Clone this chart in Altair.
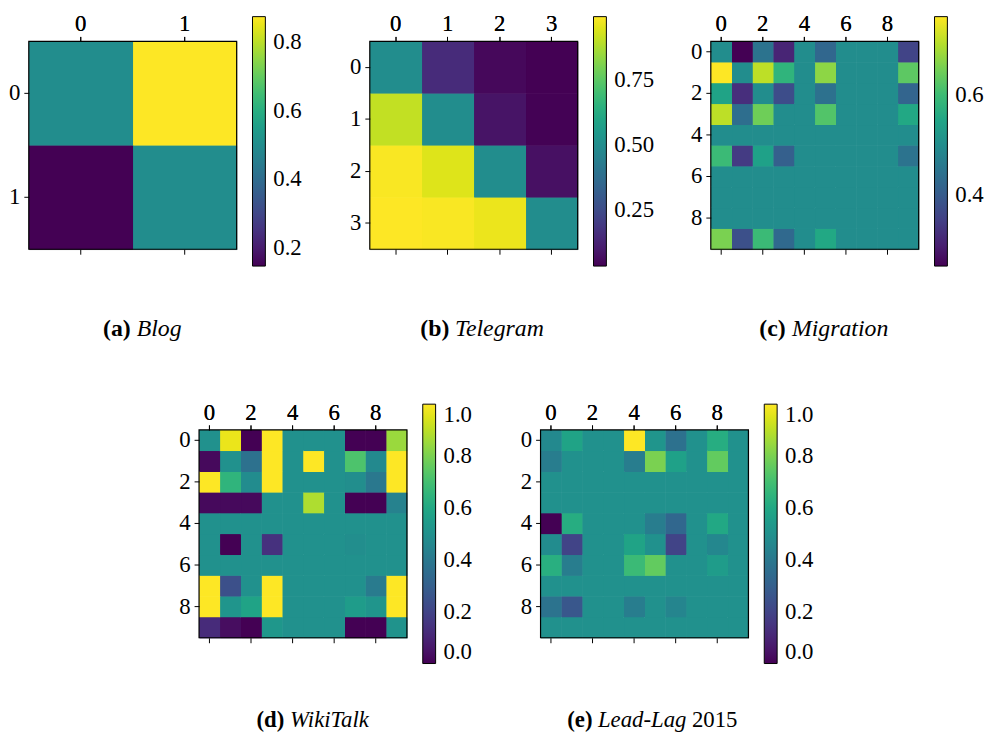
import altair as alt
import pandas as pd

FONT = "Liberation Serif"

# ---- data (row-major matrices) ----
BLOG = [
    [0.500, 0.874],
    [0.147, 0.500],
]
TELEGRAM = [
    [0.500, 0.150, 0.050, 0.033],
    [0.910, 0.500, 0.080, 0.035],
    [0.990, 0.950, 0.500, 0.070],
    [0.997, 0.990, 0.970, 0.500],
]
MIGRATION = [
    [0.500, 0.260, 0.448, 0.310, 0.500, 0.423, 0.500, 0.500, 0.500, 0.359],
    [0.755, 0.500, 0.706, 0.582, 0.500, 0.671, 0.500, 0.500, 0.500, 0.631],
    [0.547, 0.324, 0.500, 0.374, 0.500, 0.443, 0.500, 0.500, 0.500, 0.418],
    [0.706, 0.438, 0.646, 0.500, 0.500, 0.621, 0.500, 0.500, 0.500, 0.557],
    [0.500, 0.500, 0.500, 0.500, 0.500, 0.500, 0.500, 0.500, 0.500, 0.500],
    [0.597, 0.344, 0.542, 0.409, 0.500, 0.500, 0.500, 0.500, 0.500, 0.448],
    [0.500, 0.500, 0.500, 0.500, 0.500, 0.500, 0.500, 0.500, 0.500, 0.500],
    [0.500, 0.500, 0.500, 0.500, 0.500, 0.500, 0.500, 0.500, 0.500, 0.500],
    [0.500, 0.500, 0.500, 0.500, 0.500, 0.500, 0.500, 0.500, 0.500, 0.500],
    [0.656, 0.379, 0.597, 0.428, 0.500, 0.557, 0.500, 0.500, 0.500, 0.500],
]
WIKITALK = [
    [0.50, 0.97, 0.00, 1.00, 0.50, 0.50, 0.50, 0.00, 0.00, 0.85],
    [0.02, 0.50, 0.37, 1.00, 0.50, 1.00, 0.50, 0.72, 0.47, 1.00],
    [1.00, 0.65, 0.48, 1.00, 0.50, 0.50, 0.50, 0.49, 0.40, 1.00],
    [0.02, 0.02, 0.02, 0.50, 0.50, 0.88, 0.50, 0.00, 0.00, 0.44],
    [0.50, 0.50, 0.50, 0.50, 0.50, 0.50, 0.50, 0.50, 0.50, 0.50],
    [0.50, 0.00, 0.50, 0.14, 0.50, 0.50, 0.50, 0.49, 0.50, 0.50],
    [0.50, 0.50, 0.50, 0.50, 0.50, 0.50, 0.50, 0.50, 0.50, 0.50],
    [1.00, 0.24, 0.50, 1.00, 0.50, 0.50, 0.50, 0.50, 0.41, 1.00],
    [1.00, 0.52, 0.58, 1.00, 0.50, 0.50, 0.50, 0.55, 0.52, 1.00],
    [0.12, 0.03, 0.00, 0.53, 0.50, 0.50, 0.50, 0.00, 0.00, 0.51],
]
LEADLAG = [
    [0.47, 0.58, 0.50, 0.50, 1.00, 0.52, 0.37, 0.50, 0.62, 0.50],
    [0.42, 0.50, 0.50, 0.50, 0.42, 0.80, 0.57, 0.50, 0.76, 0.50],
    [0.50, 0.50, 0.50, 0.50, 0.50, 0.50, 0.50, 0.50, 0.50, 0.50],
    [0.50, 0.50, 0.50, 0.50, 0.50, 0.50, 0.50, 0.50, 0.50, 0.50],
    [0.00, 0.62, 0.50, 0.50, 0.50, 0.42, 0.33, 0.50, 0.60, 0.50],
    [0.48, 0.20, 0.50, 0.50, 0.58, 0.50, 0.20, 0.50, 0.46, 0.50],
    [0.63, 0.42, 0.50, 0.50, 0.68, 0.76, 0.50, 0.50, 0.55, 0.50],
    [0.50, 0.50, 0.50, 0.50, 0.50, 0.50, 0.50, 0.50, 0.50, 0.50],
    [0.38, 0.27, 0.50, 0.50, 0.42, 0.50, 0.45, 0.50, 0.50, 0.50],
    [0.50, 0.50, 0.50, 0.50, 0.50, 0.50, 0.50, 0.50, 0.50, 0.50],
]

# colour bar domains and ticks
DOMAINS = [[0.147, 0.874], [0.033, 0.997], [0.26, 0.755], [0.0, 1.0], [0.0, 1.0]]
CB_TICKS = [[0.2, 0.4, 0.6, 0.8], [0.25, 0.5, 0.75], [0.4, 0.6],
            [0.0, 0.2, 0.4, 0.6, 0.8, 1.0], [0.0, 0.2, 0.4, 0.6, 0.8, 1.0]]
CB_FORMATS = [".1f", ".2f", ".1f", ".1f", ".1f"]
AXIS_TICKS = [[0, 1], [0, 1, 2, 3], [0, 2, 4, 6, 8], [0, 2, 4, 6, 8], [0, 2, 4, 6, 8]]

# captions: (bold label, italic name, upright suffix)
CAP_LABELS = ["(a)", "(b)", "(c)", "(d)", "(e)"]
CAP_NAMES = ["Blog", "Telegram", "Migration", "WikiTalk", "Lead-Lag"]
CAP_SUFFIX = ["", "", "", "", "2015"]

SIZE = 210
TICK_FS = 23


def to_df(m):
    rows = []
    for i, r in enumerate(m):
        for j, v in enumerate(r):
            rows.append({"row": i, "col": j, "value": v})
    return pd.DataFrame(rows)


def axis(orient, values, labels=True, pad=3, baseline=None):
    kw = {}
    if baseline:
        kw["labelBaseline"] = baseline
    return alt.Axis(orient=orient, values=values, title=None, labelAngle=0,
                    labels=labels, labelFont=FONT, labelFontSize=TICK_FS,
                    labelColor="black", tickColor="black", tickSize=5,
                    tickWidth=1, labelPadding=pad, domain=False, grid=False, **kw)


def panel(k, m, cb_len, cb_y, cap_fs, cap_y, cap_left, name_left, suffix_x):
    n = len(m)
    df = to_df(m)
    xs = alt.Scale(domain=list(range(n)), paddingInner=0, paddingOuter=0)
    ys = alt.Scale(domain=list(range(n)), paddingInner=0, paddingOuter=0)
    xenc = alt.X("col:O", scale=xs,
                 axis=axis("top", AXIS_TICKS[k], pad=12.6, baseline="middle"))
    yenc = alt.Y("row:O", scale=ys, axis=axis("left", AXIS_TICKS[k], pad=4))
    color = alt.Color(
        "value:Q",
        scale=alt.Scale(scheme="viridis", domain=DOMAINS[k]),
        legend=alt.Legend(
            type="gradient",
            orient="none", legendX=SIZE + 16, legendY=cb_y,
            direction="vertical", gradientLength=cb_len,
            gradientThickness=13, values=CB_TICKS[k],
            format=CB_FORMATS[k], title=None, labelFont=FONT,
            labelFontSize=TICK_FS, labelColor="black", labelOffset=8,
            labelBaseline="middle", labelOverlap=False,
            gradientStrokeColor="black", gradientStrokeWidth=1,
        ),
    )
    heat = alt.Chart(df).mark_rect().encode(x=xenc, y=yenc, color=color)
    # same cells drawn again, nudged half a pixel, to hide anti-aliasing seams
    heat2 = alt.Chart(df).mark_rect(xOffset=0.5, yOffset=0.5).encode(
        x=xenc, y=yenc, color=color)
    bottom = alt.Chart(df).mark_rect(opacity=0).encode(
        x=alt.X("col:O", scale=xs, axis=axis("bottom", AXIS_TICKS[k], labels=False)),
    )
    frame = alt.Chart(pd.DataFrame({"f": [0]})).mark_rect(
        filled=False, stroke="black", strokeWidth=1.2
    ).encode(x=alt.value(0), x2=alt.value(SIZE), y=alt.value(0), y2=alt.value(SIZE))
    cap1 = alt.Chart(pd.DataFrame({"t": [CAP_LABELS[k]]})).mark_text(
        align="left", baseline="middle", font=FONT, fontSize=cap_fs,
        fontWeight="bold", color="black"
    ).encode(text="t:N", x=alt.value(cap_left), y=alt.value(cap_y))
    cap2 = alt.Chart(pd.DataFrame({"t": [CAP_NAMES[k]]})).mark_text(
        align="left", baseline="middle", font=FONT, fontSize=cap_fs,
        fontStyle="italic", color="black"
    ).encode(text="t:N", x=alt.value(name_left), y=alt.value(cap_y))
    layers = [heat, heat2, bottom, frame, cap1, cap2]
    if CAP_SUFFIX[k]:
        cap3 = alt.Chart(pd.DataFrame({"t": [CAP_SUFFIX[k]]})).mark_text(
            align="left", baseline="middle", font=FONT, fontSize=cap_fs,
            color="black"
        ).encode(text="t:N", x=alt.value(suffix_x), y=alt.value(cap_y))
        layers.append(cap3)
    return alt.layer(*layers).properties(width=SIZE, height=SIZE)


pa = panel(0, BLOG, 252, -25, 24, 291, 75, 109, 0)
pb = panel(1, TELEGRAM, 252, -25, 24, 291, 51, 86, 0)
pc = panel(2, MIGRATION, 252, -25, 24, 291, 49, 82, 0)
pd_ = panel(3, WIKITALK, 262, -26, 23, 293, 58, 92, 0)
pe = panel(4, LEADLAG, 262, -26, 23, 293, 27, 58, 153)

spacer = alt.Chart(pd.DataFrame({"a": [0]})).mark_point(opacity=0).encode(
    x=alt.value(0), y=alt.value(0)
).properties(width=37, height=SIZE, view=alt.ViewBackground(strokeOpacity=0))

top = alt.hconcat(pa, pb, pc, spacing=134.5, bounds="flush").resolve_scale(color="independent")
bot = alt.hconcat(spacer, pd_, pe, spacing=135, bounds="flush").resolve_scale(color="independent")

chart = alt.vconcat(top, bot, spacing=392.5, bounds="flush").resolve_scale(
    color="independent"
).properties(
    padding={"left": 0, "top": 0, "right": 0, "bottom": 0}
).configure_view(strokeOpacity=0).configure(background="white")

chart.save("out.html", embed_options={"renderer": "svg", "actions": False})
